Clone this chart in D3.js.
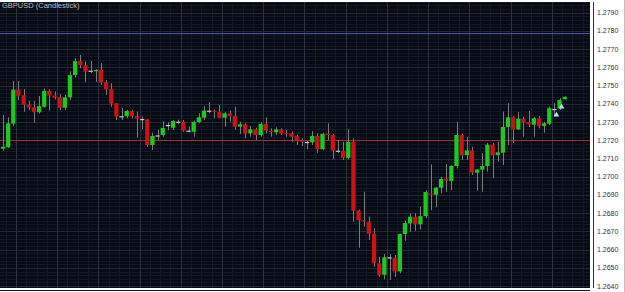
<!DOCTYPE html>
<html>
<head>
<meta charset="utf-8">
<script src="https://cdn.jsdelivr.net/npm/d3@7"></script>
<style>
  body { margin: 0; background: #ffffff; }
  svg { display: block; font-family: "Liberation Sans", Arial, sans-serif; }
</style>
</head>
<body>
<svg id="chart" width="625" height="292"></svg>
<script>
// candle data (one entry per bar, left to right)
var opens = [
  1.27154, 1.27162, 1.27291, 1.27478, 1.27447, 1.27395, 1.27381, 1.27354, 1.27384, 1.27471,
  1.27445, 1.27436, 1.27379, 1.27436, 1.27558, 1.27634, 1.27612, 1.27582, 1.27579, 1.27588,
  1.27518, 1.27482, 1.27403, 1.27332, 1.27332, 1.27361, 1.27333, 1.27317, 1.27315, 1.27174,
  1.27227, 1.27229, 1.27284, 1.27269, 1.27302, 1.27302, 1.27253, 1.27247, 1.27300, 1.27324,
  1.27363, 1.27362, 1.27355, 1.27324, 1.27348, 1.27333, 1.27275, 1.27288, 1.27238, 1.27260,
  1.27229, 1.27289, 1.27252, 1.27244, 1.27260, 1.27241, 1.27238, 1.27224, 1.27199, 1.27191,
  1.27189, 1.27224, 1.27151, 1.27236, 1.27229, 1.27143, 1.27143, 1.27104, 1.27192, 1.26814,
  1.26762, 1.26751, 1.26687, 1.26525, 1.26462, 1.26558, 1.26554, 1.26481, 1.26686, 1.26744,
  1.26781, 1.26739, 1.26784, 1.26909, 1.26901, 1.26940, 1.26989, 1.26977, 1.27059, 1.27229,
  1.27119, 1.27145, 1.27022, 1.27039, 1.27059, 1.27176, 1.27119, 1.27132, 1.27273, 1.27326,
  1.27260, 1.27319, 1.27299, 1.27286, 1.27321, 1.27279, 1.27291, 1.27372, 1.27376, 1.27425
];
var highs = [
  1.27339, 1.27326, 1.27526, 1.27526, 1.27482, 1.27416, 1.27416, 1.27443, 1.27485, 1.27480,
  1.27467, 1.27454, 1.27449, 1.27577, 1.27650, 1.27668, 1.27632, 1.27635, 1.27590, 1.27623,
  1.27531, 1.27513, 1.27405, 1.27379, 1.27366, 1.27366, 1.27357, 1.27330, 1.27317, 1.27242,
  1.27257, 1.27304, 1.27299, 1.27311, 1.27313, 1.27311, 1.27275, 1.27308, 1.27348, 1.27388,
  1.27409, 1.27370, 1.27394, 1.27355, 1.27363, 1.27384, 1.27302, 1.27293, 1.27279, 1.27269,
  1.27297, 1.27326, 1.27266, 1.27271, 1.27266, 1.27257, 1.27247, 1.27229, 1.27211, 1.27196,
  1.27251, 1.27238, 1.27242, 1.27293, 1.27235, 1.27202, 1.27192, 1.27260, 1.27211, 1.26820,
  1.26918, 1.26781, 1.26717, 1.26561, 1.26576, 1.26576, 1.26571, 1.26688, 1.26759, 1.26799,
  1.26799, 1.26835, 1.26927, 1.27068, 1.26944, 1.27000, 1.27070, 1.27064, 1.27302, 1.27235,
  1.27220, 1.27165, 1.27043, 1.27129, 1.27185, 1.27185, 1.27192, 1.27357, 1.27403, 1.27333,
  1.27355, 1.27328, 1.27361, 1.27328, 1.27333, 1.27302, 1.27384, 1.27403, 1.27431, 1.27440
];
var lows = [
  1.27143, 1.27158, 1.27279, 1.27421, 1.27357, 1.27366, 1.27297, 1.27346, 1.27379, 1.27363,
  1.27425, 1.27366, 1.27366, 1.27421, 1.27544, 1.27595, 1.27518, 1.27570, 1.27520, 1.27504,
  1.27449, 1.27384, 1.27311, 1.27311, 1.27321, 1.27321, 1.27214, 1.27262, 1.27165, 1.27147,
  1.27202, 1.27220, 1.27255, 1.27257, 1.27288, 1.27247, 1.27244, 1.27220, 1.27293, 1.27311,
  1.27348, 1.27321, 1.27321, 1.27275, 1.27302, 1.27257, 1.27235, 1.27211, 1.27220, 1.27202,
  1.27220, 1.27238, 1.27220, 1.27229, 1.27229, 1.27220, 1.27192, 1.27174, 1.27169, 1.27151,
  1.27174, 1.27132, 1.27147, 1.27202, 1.27096, 1.27130, 1.27092, 1.27096, 1.26753, 1.26610,
  1.26726, 1.26653, 1.26506, 1.26451, 1.26437, 1.26433, 1.26451, 1.26470, 1.26649, 1.26698,
  1.26704, 1.26711, 1.26772, 1.26817, 1.26832, 1.26912, 1.26918, 1.26927, 1.27046, 1.27092,
  1.27092, 1.27010, 1.26923, 1.26918, 1.27028, 1.26991, 1.27083, 1.27064, 1.27174, 1.27184,
  1.27257, 1.27220, 1.27271, 1.27220, 1.27266, 1.27242, 1.27284, 1.27330, 1.27366, 1.27424
];
var closes = [
  1.27165, 1.27293, 1.27478, 1.27445, 1.27394, 1.27381, 1.27354, 1.27387, 1.27471, 1.27445,
  1.27434, 1.27379, 1.27436, 1.27558, 1.27634, 1.27612, 1.27577, 1.27582, 1.27586, 1.27518,
  1.27480, 1.27401, 1.27330, 1.27332, 1.27361, 1.27332, 1.27319, 1.27317, 1.27174, 1.27224,
  1.27227, 1.27268, 1.27284, 1.27306, 1.27302, 1.27253, 1.27253, 1.27302, 1.27326, 1.27363,
  1.27363, 1.27359, 1.27324, 1.27348, 1.27333, 1.27275, 1.27288, 1.27238, 1.27260, 1.27229,
  1.27289, 1.27253, 1.27250, 1.27260, 1.27238, 1.27239, 1.27220, 1.27198, 1.27197, 1.27191,
  1.27224, 1.27151, 1.27235, 1.27234, 1.27143, 1.27143, 1.27104, 1.27192, 1.26814, 1.26762,
  1.26760, 1.26687, 1.26525, 1.26462, 1.26558, 1.26558, 1.26481, 1.26686, 1.26746, 1.26781,
  1.26739, 1.26784, 1.26916, 1.26905, 1.26940, 1.26988, 1.26978, 1.27059, 1.27229, 1.27119,
  1.27145, 1.27024, 1.27039, 1.27059, 1.27176, 1.27118, 1.27134, 1.27273, 1.27326, 1.27260,
  1.27319, 1.27299, 1.27288, 1.27321, 1.27279, 1.27293, 1.27376, 1.27372, 1.27421, 1.27439
];

var priceTicks = [1.2790, 1.2780, 1.2770, 1.2760, 1.2750, 1.2740, 1.2730, 1.2720,
                  1.2710, 1.2700, 1.2690, 1.2680, 1.2670, 1.2660, 1.2650, 1.2640];
var levelLines = [1.27789, 1.2720];
var arrowBars = [108, 107];
var arrowPrices = [1.27383, 1.27339];
var title = "GBPUSD (Candlestick)";

var svg = d3.select("#chart");
var width = 625, height = 292;
var plot = { left: 0, top: 2, right: 590, bottom: 288 };

var candles = opens.map(function(o, i) {
    return { i: i, o: o, h: highs[i], l: lows[i], c: closes[i] };
});

var xScale = d3.scaleBand()
    .domain(d3.range(candles.length))
    .range([0.43, 567.3])
    .paddingInner(0.17)
    .paddingOuter(0.085);
var step = xScale.step();
var bw = xScale.bandwidth();

var yScale = d3.scaleLinear()
    .domain([1.2640, 1.2790])
    .range([286.14, 12.69]);

// backgrounds
svg.append("rect").attr("width", width).attr("height", height).attr("fill", "#ffffff");
svg.append("rect")
    .attr("x", plot.left).attr("y", plot.top)
    .attr("width", plot.right - plot.left).attr("height", plot.bottom - plot.top)
    .attr("fill", "#080b14");

var grid = svg.append("g");

// minor horizontal grid
var minorY = d3.range(1.2638, 1.2796, 0.0002);
grid.selectAll(".hminor").data(minorY).enter().append("line")
    .attr("x1", plot.left).attr("x2", plot.right)
    .attr("y1", function(d) { return Math.round(yScale(d)) + 0.5; })
    .attr("y2", function(d) { return Math.round(yScale(d)) + 0.5; })
    .attr("stroke", "#131826").attr("stroke-width", 1);

// minor vertical grid
var minorX = d3.range(candles.length + 4).filter(function(i) { return i % 2 === 1; });
grid.selectAll(".vminor").data(minorX).enter().append("line")
    .attr("x1", function(i) { return Math.round(0.43 + step * i) + 0.5; })
    .attr("x2", function(i) { return Math.round(0.43 + step * i) + 0.5; })
    .attr("y1", plot.top).attr("y2", plot.bottom)
    .attr("stroke", "#131826").attr("stroke-width", 1);

// major grid
grid.selectAll(".hmajor").data(priceTicks).enter().append("line")
    .attr("x1", plot.left).attr("x2", plot.right)
    .attr("y1", function(d) { return Math.round(yScale(d)) + 0.5; })
    .attr("y2", function(d) { return Math.round(yScale(d)) + 0.5; })
    .attr("stroke", "#222938").attr("stroke-width", 1);

var majorX = d3.range(candles.length + 8).filter(function(i) { return i % 8 === 3; });
grid.selectAll(".vmajor").data(majorX).enter().append("line")
    .attr("x1", function(i) { return Math.round(0.43 + step * i) + 0.5; })
    .attr("x2", function(i) { return Math.round(0.43 + step * i) + 0.5; })
    .attr("y1", plot.top).attr("y2", plot.bottom)
    .attr("stroke", "#2a3140").attr("stroke-width", 1);

// level lines
svg.append("line")
    .attr("x1", plot.left).attr("x2", plot.right)
    .attr("y1", Math.round(yScale(levelLines[0])) + 0.5).attr("y2", Math.round(yScale(levelLines[0])) + 0.5)
    .attr("stroke", "#4d55b8").attr("stroke-width", 1);
svg.append("line")
    .attr("x1", plot.left).attr("x2", plot.right)
    .attr("y1", Math.round(yScale(levelLines[1])) + 0.5).attr("y2", Math.round(yScale(levelLines[1])) + 0.5)
    .attr("stroke", "#a32a36").attr("stroke-width", 1);

// candles
var cg = svg.append("g");
cg.selectAll(".wick").data(candles).enter().append("line")
    .attr("class", "wick")
    .attr("x1", function(d) { return Math.round(xScale(d.i) + bw / 2) + 0.5; })
    .attr("x2", function(d) { return Math.round(xScale(d.i) + bw / 2) + 0.5; })
    .attr("y1", function(d) { return yScale(d.h); })
    .attr("y2", function(d) { return yScale(d.l); })
    .attr("stroke", "#7c7c7c").attr("stroke-width", 1);

cg.selectAll(".body").data(candles).enter().append("rect")
    .attr("class", "body")
    .attr("x", function(d) { return xScale(d.i); })
    .attr("width", bw)
    .attr("y", function(d) { return yScale(Math.max(d.o, d.c)); })
    .attr("height", function(d) { return Math.max(1.2, Math.abs(yScale(d.o) - yScale(d.c))); })
    .attr("fill", function(d) {
        if (d.c > d.o) return "#1ec81e";
        if (d.c < d.o) return "#cc1212";
        return "#c8c8c8";
    });

// trade arrows
svg.selectAll(".arrow").data(arrowBars).enter().append("path")
    .attr("d", d3.symbol().type(d3.symbolTriangle).size(14))
    .attr("transform", function(b, k) {
        return "translate(" + (xScale(b) + bw / 2 + 2) + "," + yScale(arrowPrices[k]) + ")";
    })
    .attr("fill", "#b8e2ff");

// title
svg.append("text")
    .attr("x", 2).attr("y", 8)
    .attr("font-size", "7.5px")
    .attr("fill", "#bcbcbc")
    .text(title);

// price axis
var axis = svg.append("g");
axis.selectAll(".lbl").data(priceTicks).enter().append("text")
    .attr("x", 597)
    .attr("y", function(d) { return yScale(d) + 2.5; })
    .attr("font-size", "7px")
    .attr("fill", "#333333")
    .text(function(d) { return d3.format(".4f")(d); });

svg.append("line").attr("x1", 624.5).attr("x2", 624.5).attr("y1", 0).attr("y2", height)
    .attr("stroke", "#c0c0c0");
</script>
</body>
</html>
